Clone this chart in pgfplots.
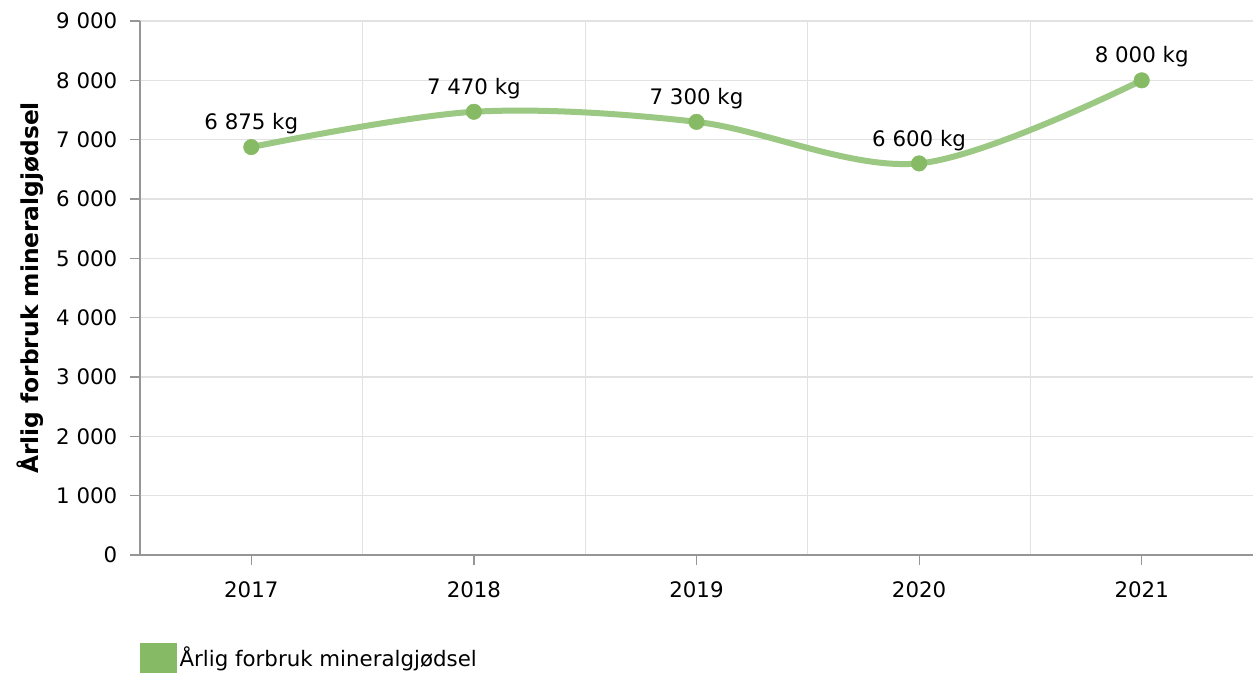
\documentclass[border=0pt]{standalone}
\usepackage{pgfplots}
\pgfplotsset{compat=1.18}
\usepackage{fontspec}
\setmainfont{DejaVu Sans}
\definecolor{linegreen}{RGB}{155,200,130}
\definecolor{markgreen}{RGB}{134,186,101}
\definecolor{gridgray}{RGB}{226,226,226}
\definecolor{axisgray}{RGB}{150,150,150}
\pgfplotstableread{
x y label
0 6875 {6 875 kg}
1 7470 {7 470 kg}
2 7300 {7 300 kg}
3 6600 {6 600 kg}
4 8000 {8 000 kg}
}\datatable
\begin{document}
\begin{tikzpicture}
\useasboundingbox (-105pt,-88.5pt) rectangle (836.25pt,416.25pt);
\begin{axis}[
  at={(0,0)}, anchor=south west,
  scale only axis,
  width=834.75pt, height=400.5pt,
  xmin=-0.5, xmax=4.5, ymin=0, ymax=9000,
  axis x line*=bottom, axis y line*=left,
  axis line style={axisgray, line width=0.9pt},
  xtick={0,1,2,3,4},
  xticklabels={2017,2018,2019,2020,2021},
  minor xtick={0.5,1.5,2.5,3.5},
  ytick={0,1000,...,9000},
  yticklabels={0,1 000,2 000,3 000,4 000,5 000,6 000,7 000,8 000,9 000},
  ymajorgrids, xminorgrids,
  major grid style={gridgray, line width=0.8pt},
  minor grid style={gridgray, line width=0.8pt},
  tick align=outside,
  major tick length=7.5pt,
  minor tick length=0pt,
  tick style={axisgray, line width=0.9pt},
  ticklabel style={font=\fontsize{16}{19}\selectfont, text=black},
  yticklabel style={xshift=-6pt},
  xticklabel style={yshift=-9pt},
  ylabel={Årlig forbruk mineralgjødsel},
  ylabel style={font=\fontsize{17.5}{20}\selectfont\bfseries, at={(axis description cs:-0.0988,0.5)}, anchor=center},
  legend style={at={(axis description cs:0,-0.1648)}, anchor=north west, draw=none, fill=none, inner sep=0pt, font=\fontsize{16}{19}\selectfont, legend cell align=left},
  clip=false,
]
\addplot[
  color=linegreen, line width=4.5pt, smooth, tension=0.55,
  mark=*, mark size=5.8pt, mark options={fill=markgreen, draw=markgreen, line width=0.4pt, solid},
  nodes near coords, point meta=explicit symbolic,
  every node near coord/.append style={font=\fontsize{16}{19}\selectfont, text=black, anchor=south, inner sep=0pt, yshift=9.5pt},
  legend image code/.code={\fill[markgreen] (0pt,-14.25pt) rectangle (23pt,8.25pt);},
] table[x=x, y=y, meta=label] {\datatable};
\addlegendentry{Årlig forbruk mineralgjødsel}
\end{axis}
\end{tikzpicture}
\end{document}
